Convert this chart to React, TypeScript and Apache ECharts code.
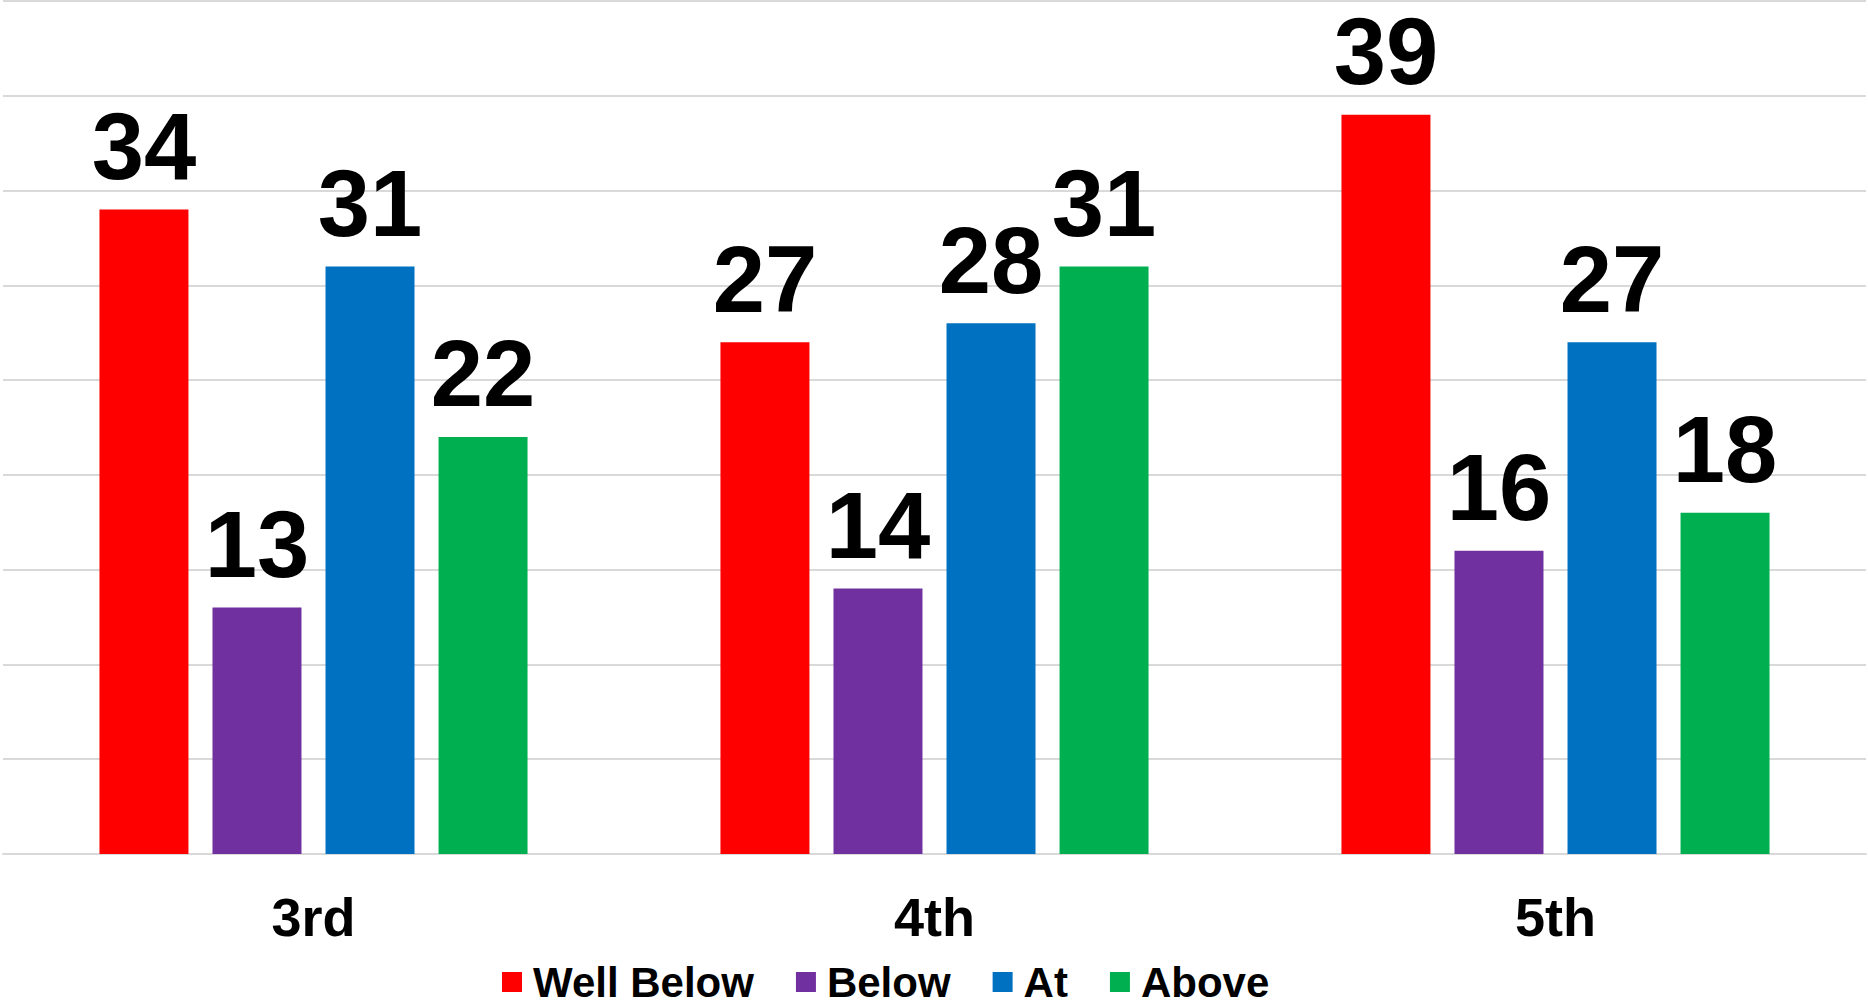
import React, { useEffect, useRef } from "react";
import * as echarts from "echarts";

const categories = ["3rd", "4th", "5th"];
const seriesNames = ["Well Below", "Below", "At", "Above"];
const wellBelow = [34, 27, 39];
const below = [13, 14, 16];
const at = [31, 28, 27];
const above = [22, 31, 18];
const colors = ["#FF0000", "#7030A0", "#0070C0", "#00B050"];

const FONT = "'Liberation Sans', Arial, sans-serif";

export default function App() {
  const ref = useRef<HTMLDivElement>(null);
  useEffect(() => {
    document.body.style.margin = "0";
    const chart = echarts.init(ref.current!, null, { renderer: "svg" });
    const values = [wellBelow, below, at, above];
    chart.setOption({
      animation: false,
      backgroundColor: "#ffffff",
      grid: { left: 3, right: 2, top: 1, bottom: 151, containLabel: false },
      legend: {
        data: seriesNames,
        left: 497,
        top: 956,
        itemWidth: 20,
        itemHeight: 20,
        itemGap: 42,
        icon: "rect",
        textStyle: {
          fontFamily: FONT,
          fontWeight: "bold",
          fontSize: 42,
          lineHeight: 42,
          color: "#000000",
          padding: [0, 0, 0, 6],
        },
      },
      xAxis: {
        type: "category",
        data: categories,
        axisTick: { show: false },
        axisLine: { show: true, lineStyle: { color: "#d9d9d9", width: 2 } },
        axisLabel: {
          margin: 36,
          fontFamily: FONT,
          fontWeight: "bold",
          fontSize: 54,
          color: "#000000",
        },
      },
      yAxis: {
        type: "value",
        min: 0,
        max: 45,
        interval: 5,
        axisLabel: { show: false },
        axisLine: { show: false },
        axisTick: { show: false },
        splitLine: { show: true, lineStyle: { color: "#d9d9d9", width: 2 } },
      },
      series: seriesNames.map((name, i) => ({
        name,
        type: "bar",
        data: values[i],
        barWidth: 89,
        barGap: "27%",
        itemStyle: { color: colors[i] },
        label: {
          show: true,
          position: "top",
          distance: 16,
          fontFamily: FONT,
          fontWeight: "bold",
          fontSize: 94,
          color: "#000000",
        },
      })),
    });
    return () => chart.dispose();
  }, []);
  return <div ref={ref} style={{ width: 1868, height: 1005 }} />;
}
